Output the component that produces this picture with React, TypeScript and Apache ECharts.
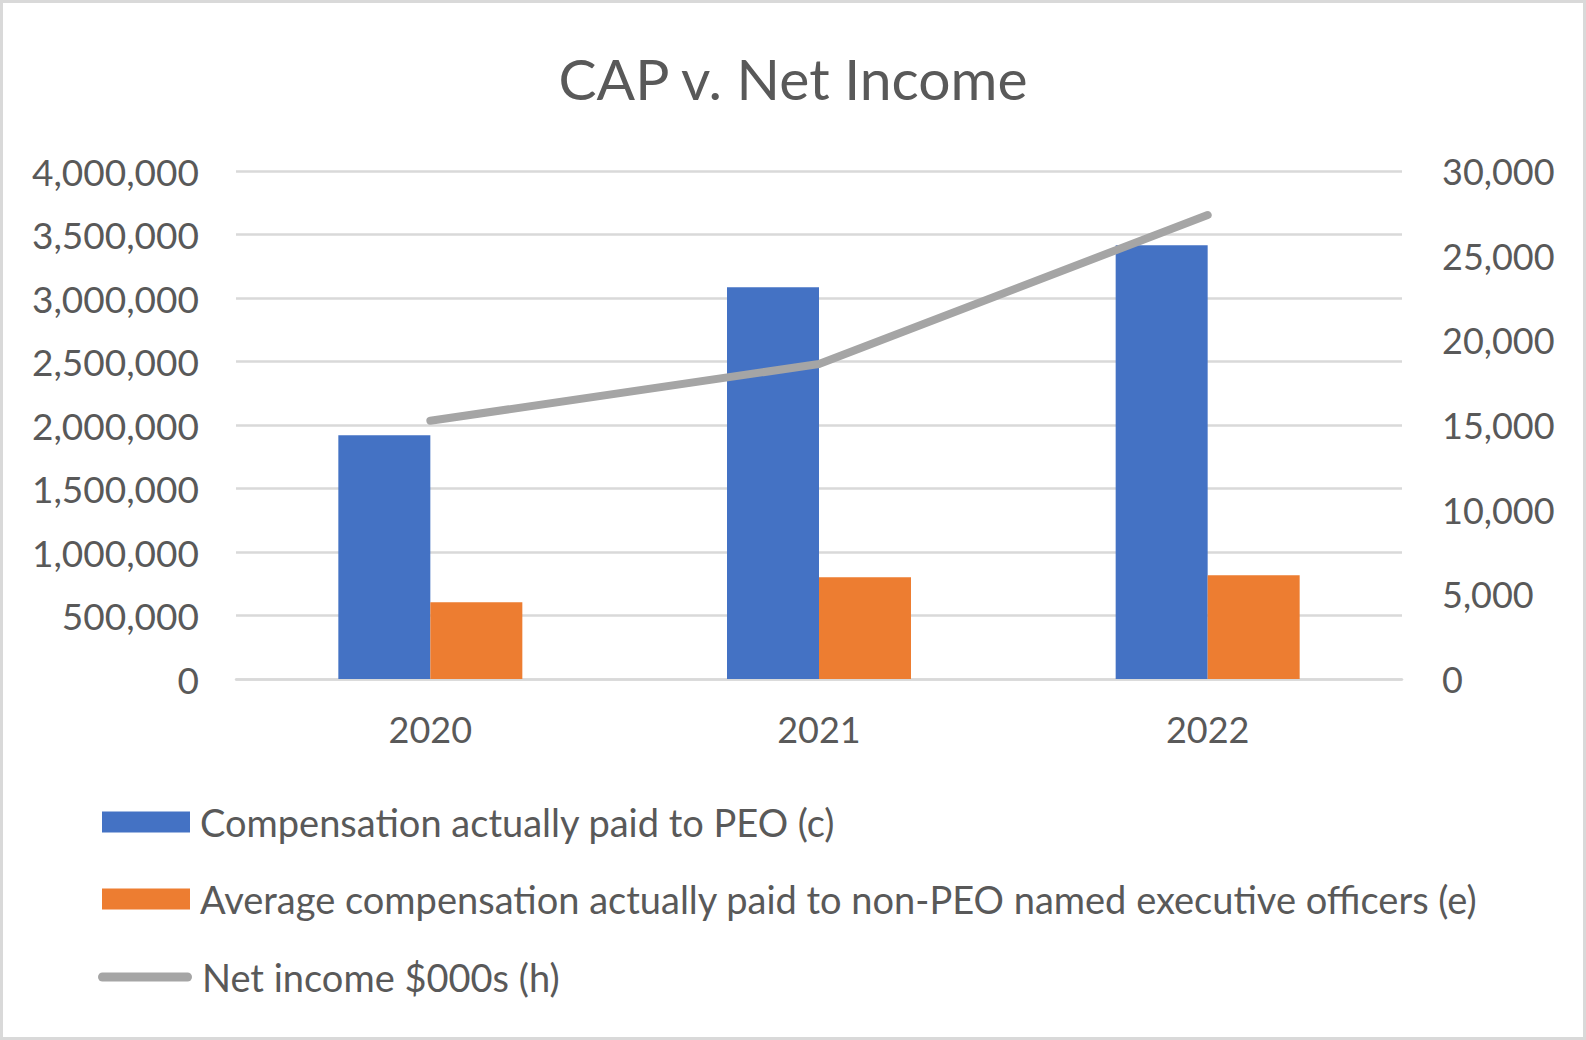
import React, { useEffect, useRef } from "react";
import * as echarts from "echarts";

// Fiscal years on the category axis
const years = ["2020", "2021", "2022"];

// Compensation actually paid (left axis, $)
const peoCap = [1919000, 3084000, 3415000];
const neoAvgCap = [604000, 801000, 816000];

// Net income in $000s (right axis)
const netIncome = [15250, 18600, 27400];

// Axis ranges
const leftMax = 4000000;
const leftStep = 500000;
const rightMax = 30000;
const rightStep = 5000;

const peoName = "Compensation actually paid to PEO (c)";
const neoName = "Average compensation actually paid to non-PEO named executive officers (e)";
const niName = "Net income $000s (h)";

const FONT = "Lato";
const TEXT = "#595959";
const GRID = "#d9d9d9";

const fmt = (v: number) => Number(v).toLocaleString("en-US");

export default function App() {
  const ref = useRef<HTMLDivElement>(null);

  useEffect(() => {
    if (!ref.current) return;
    const chart = echarts.init(ref.current, undefined, { renderer: "svg" });

    const legendText = { fontFamily: FONT, fontSize: 38, color: TEXT, padding: [0, 0, 0, 5] };

    chart.setOption({
      animation: false,
      backgroundColor: "#ffffff",
      title: {
        text: "CAP v. Net Income",
        left: "center",
        top: 49,
        padding: 0,
        textStyle: { fontFamily: FONT, fontSize: 57, fontWeight: "normal", color: TEXT },
      },
      graphic: [
        {
          type: "rect",
          shape: { x: 1.5, y: 1.5, width: 1583, height: 1037 },
          style: { fill: "none", stroke: GRID, lineWidth: 3 },
          silent: true,
        },
      ],
      grid: { left: 236, right: 184, top: 171, bottom: 361, containLabel: false },
      legend: [
        {
          left: 102,
          top: 803,
          padding: 0,
          selectedMode: false,
          itemWidth: 88,
          itemHeight: 21,
          data: [{ name: peoName, icon: "rect" }],
          textStyle: legendText,
        },
        {
          left: 102,
          top: 880,
          padding: 0,
          selectedMode: false,
          itemWidth: 88,
          itemHeight: 21,
          data: [{ name: neoName, icon: "rect" }],
          textStyle: legendText,
        },
        {
          left: 98,
          top: 958,
          padding: 0,
          selectedMode: false,
          itemWidth: 94,
          itemHeight: 9,
          data: [
            {
              name: niName,
              icon: "path://M4.5 0H89.5A4.5 4.5 0 0 1 89.5 9H4.5A4.5 4.5 0 0 1 4.5 0Z",
              itemStyle: { color: "#a5a5a5" },
            },
          ],
          textStyle: legendText,
        },
      ],
      xAxis: {
        type: "category",
        data: years,
        axisTick: { show: false },
        axisLine: { show: true, lineStyle: { color: GRID, width: 2.5 } },
        axisLabel: { fontFamily: FONT, fontSize: 36, color: TEXT, margin: 32 },
      },
      yAxis: [
        {
          type: "value",
          min: 0,
          max: leftMax,
          interval: leftStep,
          axisLine: { show: false },
          axisTick: { show: false },
          splitLine: { show: true, lineStyle: { color: GRID, width: 2.5 } },
          axisLabel: { fontFamily: FONT, fontSize: 37, color: TEXT, margin: 37, formatter: fmt },
        },
        {
          type: "value",
          min: 0,
          max: rightMax,
          interval: rightStep,
          position: "right",
          axisLine: { show: false },
          axisTick: { show: false },
          splitLine: { show: false },
          axisLabel: { fontFamily: FONT, fontSize: 36, color: TEXT, margin: 40, formatter: fmt },
        },
      ],
      series: [
        {
          name: peoName,
          type: "bar",
          data: peoCap,
          barWidth: 92,
          barGap: "0%",
          itemStyle: { color: "#4472c4" },
        },
        {
          name: neoName,
          type: "bar",
          data: neoAvgCap,
          barWidth: 92,
          barGap: "0%",
          itemStyle: { color: "#ed7d31" },
        },
        {
          name: niName,
          type: "line",
          yAxisIndex: 1,
          data: netIncome,
          symbol: "none",
          itemStyle: { color: "#a5a5a5" },
          lineStyle: { color: "#a5a5a5", width: 8, cap: "round", join: "round" },
          z: 5,
        },
      ],
    });

    return () => chart.dispose();
  }, []);

  return (
    <div
      ref={ref}
      style={{ position: "fixed", left: 0, top: 0, width: 1586, height: 1040, background: "#fff" }}
    />
  );
}
